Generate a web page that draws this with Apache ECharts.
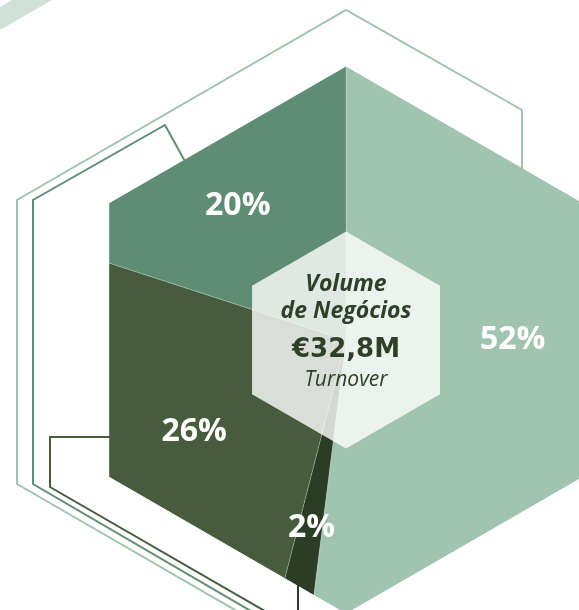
<!DOCTYPE html>
<html><head><meta charset="utf-8">
<script src="https://cdn.jsdelivr.net/npm/echarts@6/dist/echarts.min.js"></script>
<style>html,body{margin:0;padding:0;background:#fff}#c{width:579px;height:610px}</style>
</head><body><div id="c"></div>
<script>
// ---- data ----
const segments = ['Segmento A', 'Segmento B', 'Segmento C', 'Segmento D'];
const shares = [52, 2, 26, 20];
const centerTitle = ['Volume', 'de Negócios'];
const centerValue = '€32,8M';
const centerSubtitle = 'Turnover';

// ---- style ----
const colors = ['#a0c4b0', '#2b3d24', '#465c3c', '#5f8c74'];
const labelNudge = [[-12, -11], [-1, 12], [5, 6], [-3, 11]];
const CX = 346, CY = 340, R = 274, RC = 108.5;
const textDark = '#2e4028';

function hex(cx, cy, r) {
  const w = r * Math.cos(Math.PI / 6), h = r / 2;
  return [[cx, cy - r], [cx + w, cy - h], [cx + w, cy + h], [cx, cy + r], [cx - w, cy + h], [cx - w, cy - h]];
}
const outer = hex(CX, CY, R);
const masks = [];
for (let i = 0; i < 6; i++) {
  const a = outer[i], b = outer[(i + 1) % 6];
  const far = p => [CX + (p[0] - CX) * 4, CY + (p[1] - CY) * 4];
  masks.push({ type: 'polygon', z: 10, silent: true,
    shape: { points: [a, b, far(b), far(a)] },
    style: { fill: '#ffffff', stroke: '#ffffff', lineWidth: 1 } });
}
const deco = [
  { pts: [[522, 172], [522, 110], [346, 10], [17, 200], [17, 484], [242, 614]], c: '#a0c4b0' },
  { pts: [[187, 165], [165, 125], [33, 200], [33, 484], [256, 614]], c: '#5f8c74' },
  { pts: [[114, 437], [50, 437], [50, 487], [270, 614]], c: '#465c3c' },
  { pts: [[298, 582], [298, 614]], c: '#2b3d24' }
].map(d => ({ type: 'polyline', z: 11, silent: true, shape: { points: d.pts },
  style: { stroke: d.c, lineWidth: 2, fill: null, lineJoin: 'miter' } }));

const band = { type: 'polygon', z: 11, silent: true,
  shape: { points: [[0, 7], [12, 0], [52, 0], [0, 30]] }, style: { fill: '#cfe1d6' } };

const centerHex = { type: 'polygon', z: 12, silent: true,
  shape: { points: hex(CX, CY, RC) }, style: { fill: 'rgba(255,255,255,0.8)' } };

function txt(t, y, font) {
  return { type: 'text', z: 13, silent: true,
    style: { text: t, x: CX, y: y, font: font, fill: textDark,
      textAlign: 'center', textVerticalAlign: 'middle', align: 'center', verticalAlign: 'middle' } };
}
const texts = [
  txt(centerTitle[0], 284, 'italic bold 23px "Open Sans"'),
  txt(centerTitle[1], 311, 'italic bold 23px "Open Sans"'),
  txt(centerValue, 350, 'bold 26px "DejaVu Sans"'),
  txt(centerSubtitle, 380, 'italic 21px "Open Sans"')
];

const pieData = segments.map((n, i) => ({ name: n, value: shares[i], itemStyle: { color: colors[i] } }));

const chart = echarts.init(document.getElementById('c'), null, { renderer: 'canvas' });
chart.setOption({
  animation: false,
  series: [
    { type: 'pie', center: [CX, CY], radius: [0, R], startAngle: 90, clockwise: true, silent: true,
      data: pieData, label: { show: false }, labelLine: { show: false },
      itemStyle: { borderColor: 'rgba(255,255,255,0.35)', borderWidth: 0.6 } },
    { type: 'pie', center: [CX, CY], radius: [78, R], startAngle: 90, clockwise: true, silent: true, z: 20,
      data: segments.map((n, i) => ({ name: n, value: shares[i] })),
      itemStyle: { color: 'rgba(0,0,0,0)' },
      label: { show: true, position: 'inside', formatter: p => p.value + '%',
        color: '#ffffff', fontFamily: 'Open Sans', fontWeight: 'bold', fontSize: 32 },
      labelLayout: p => ({ dx: labelNudge[p.dataIndex][0], dy: labelNudge[p.dataIndex][1] }),
      labelLine: { show: false } }
  ],
  graphic: { elements: [...masks, band, ...deco, centerHex, ...texts] }
});
</script></body></html>
